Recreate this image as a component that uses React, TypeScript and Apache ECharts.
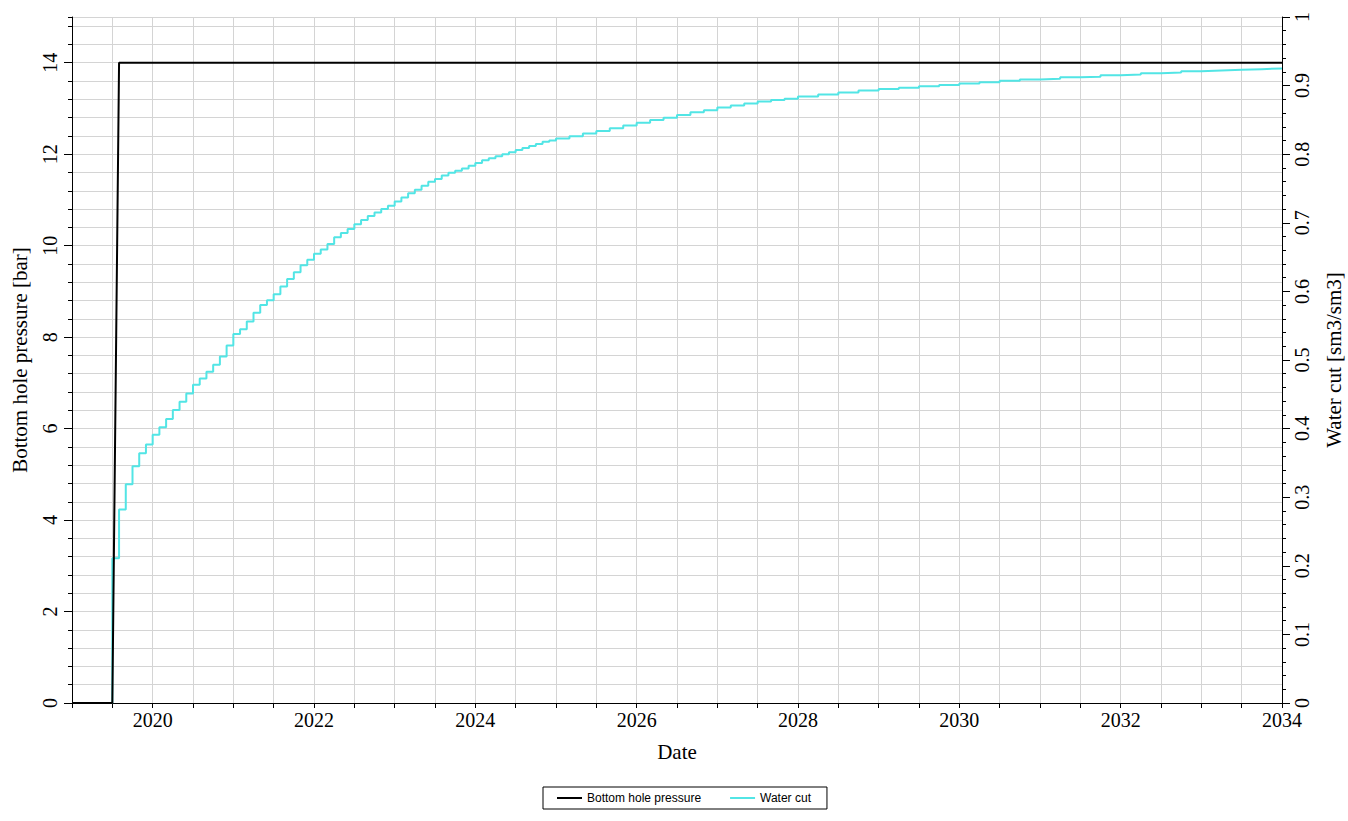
import React, { useEffect, useRef } from 'react';
import * as echarts from 'echarts';

// Bottom hole pressure [bar]
const bhpDates = ['2019-01', '2019-07', '2019-08', '2034-01'];
const bhpValues = [0, 0, 14, 14];

// Water cut [sm3/sm3] — monthly steps from 2019-07 to 2024-12
const wcMonthlyStart = '2019-07';
const wcMonthlyValues = [
  0.211, 0.282, 0.319, 0.345, 0.364, 0.377,
  0.391, 0.402, 0.414, 0.427, 0.439, 0.451, 0.464, 0.473, 0.483, 0.493, 0.505, 0.521,
  0.538, 0.545, 0.556, 0.569, 0.580, 0.587, 0.596, 0.607, 0.618, 0.628, 0.638, 0.646,
  0.655, 0.661, 0.669, 0.679, 0.685, 0.691, 0.698, 0.704, 0.710, 0.715, 0.720, 0.725,
  0.731, 0.737, 0.743, 0.748, 0.754, 0.760, 0.764, 0.769, 0.773, 0.776, 0.779, 0.783,
  0.787, 0.791, 0.794, 0.797, 0.800, 0.803, 0.806, 0.809, 0.812, 0.815, 0.818, 0.820,
];
// Water cut — later readings
const wcLaterDates = [
  '2025-01', '2025-03', '2025-05', '2025-07', '2025-09', '2025-11',
  '2026-01', '2026-03', '2026-05', '2026-07', '2026-09', '2026-11',
  '2027-01', '2027-03', '2027-05', '2027-07', '2027-09', '2027-11',
  '2028-01', '2028-04', '2028-07', '2028-10',
  '2029-01', '2029-04', '2029-07', '2029-10',
  '2030-01', '2030-04', '2030-07', '2030-10',
  '2031-01', '2031-04', '2031-07', '2031-10',
  '2032-01', '2032-04', '2032-07', '2032-10',
  '2033-01', '2033-04', '2033-07', '2033-10', '2034-01',
];
const wcLaterValues = [
  0.823, 0.826, 0.830, 0.834, 0.838, 0.842,
  0.846, 0.850, 0.853, 0.857, 0.861, 0.864,
  0.868, 0.871, 0.874, 0.877, 0.879, 0.881,
  0.884, 0.887, 0.890, 0.893,
  0.895, 0.897, 0.899, 0.901,
  0.903, 0.905, 0.907, 0.909,
  0.910, 0.912, 0.913, 0.915,
  0.916, 0.918, 0.919, 0.921,
  0.922, 0.923, 0.924, 0.925, 0.926,
];
const wcStartDate = '2019-01';
const wcStartValue = 0;

const xMin = 2019;
const xMax = 2034;
const leftMajorTicks = [0, 2, 4, 6, 8, 10, 12, 14];
const rightMajorTicks = [0, 0.1, 0.2, 0.3, 0.4, 0.5, 0.6, 0.7, 0.8, 0.9, 1];

function toYear(s: string): number {
  const [y, m] = s.split('-').map(Number);
  return y + (m - 1) / 12;
}

function monthlyDates(start: string, n: number): string[] {
  const [y0, m0] = start.split('-').map(Number);
  const out: string[] = [];
  for (let i = 0; i < n; i++) {
    const t = (m0 - 1) + i;
    const y = y0 + Math.floor(t / 12);
    const m = (t % 12) + 1;
    out.push(`${y}-${String(m).padStart(2, '0')}`);
  }
  return out;
}

const SERIF = '"Liberation Serif", "Times New Roman", serif';
const SANS = '"Liberation Sans", Arial, sans-serif';
const GRID_COLOR = '#d4d4d4';
const CYAN = '#52e5e5';

export default function App() {
  const ref = useRef<HTMLDivElement>(null);

  useEffect(() => {
    if (!ref.current) return;
    const chart = echarts.init(ref.current, undefined, { renderer: 'svg' });

    const bhpData = bhpDates.map((d, i) => [toYear(d), bhpValues[i]]);
    const mDates = monthlyDates(wcMonthlyStart, wcMonthlyValues.length);
    const wcData: number[][] = [[toYear(wcStartDate), wcStartValue]];
    mDates.forEach((d, i) => wcData.push([toYear(d), wcMonthlyValues[i]]));
    wcLaterDates.forEach((d, i) => wcData.push([toYear(d), wcLaterValues[i]]));

    const axisText = { fontFamily: SERIF, fontSize: 20, color: '#000' };
    const nameText = { fontFamily: SERIF, fontSize: 21, color: '#000' };

    const option: any = {
      animation: false,
      backgroundColor: '#ffffff',
      grid: { left: 72, right: 66, top: 17, bottom: 118, containLabel: false, outerBoundsMode: 'none' },
      legend: {
        data: ['Bottom hole pressure', 'Water cut'],
        left: 543,
        top: 787,
        orient: 'horizontal',
        borderColor: '#000',
        borderWidth: 1,
        padding: [5, 16, 5, 14],
        itemGap: 29,
        itemWidth: 25,
        itemHeight: 2,
        icon: 'rect',
        textStyle: { fontFamily: SANS, fontSize: 12, color: '#000' },
      },
      xAxis: {
        type: 'value',
        min: xMin,
        max: xMax,
        interval: 0.5,
        name: 'Date',
        nameLocation: 'middle',
        nameGap: 38,
        nameTextStyle: nameText,
        axisLine: { show: true, onZero: false, lineStyle: { color: '#000', width: 1 } },
        axisTick: { show: true, length: 5, lineStyle: { color: '#000' } },
        axisLabel: {
          ...axisText,
          margin: 7,
          showMinLabel: true,
          showMaxLabel: true,
          formatter: (v: number) => (Math.abs(v - Math.round(v)) < 1e-6 && Math.round(v) % 2 === 0 ? String(Math.round(v)) : ''),
        },
        splitLine: { show: true, lineStyle: { color: GRID_COLOR, width: 1 } },
      },
      yAxis: [
        {
          type: 'value',
          position: 'left',
          min: 0,
          max: 15,
          interval: 0.4,
          name: 'Bottom hole pressure [bar]',
          nameLocation: 'middle',
          nameGap: 42,
          nameRotate: 90,
          nameTextStyle: nameText,
          axisLine: { show: true, onZero: false, lineStyle: { color: '#000', width: 1 } },
          axisTick: { show: true, length: 4, lineStyle: { color: '#000' } },
          axisLabel: {
            ...axisText,
            rotate: 90,
            margin: 12,
            formatter: (v: number) => {
              const r = Math.round(v);
              return Math.abs(v - r) < 1e-6 && r % 2 === 0 && r <= 14 ? String(r) : '';
            },
          },
          splitLine: { show: true, lineStyle: { color: GRID_COLOR, width: 1 } },
        },
        {
          type: 'value',
          position: 'right',
          min: 0,
          max: 1,
          interval: 0.02,
          name: 'Water cut [sm3/sm3]',
          nameLocation: 'middle',
          nameGap: 41,
          nameRotate: 90,
          nameTextStyle: nameText,
          axisLine: { show: true, onZero: false, lineStyle: { color: '#000', width: 1 } },
          axisTick: { show: true, length: 4, lineStyle: { color: '#000' } },
          axisLabel: {
            ...axisText,
            rotate: 90,
            margin: 10,
            formatter: (v: number) => {
              const r = Math.round(v * 10);
              if (Math.abs(v * 10 - r) > 1e-6) return '';
              if (r === 0) return '0';
              if (r === 10) return '1';
              return (r / 10).toFixed(1);
            },
          },
          splitLine: { show: false },
        },
        {
          type: 'value',
          position: 'left',
          min: 0,
          max: 15,
          axisLine: { show: false },
          axisTick: { show: true, length: 8, customValues: leftMajorTicks, lineStyle: { color: '#000' } },
          axisLabel: { show: false },
          splitLine: { show: false },
        },
        {
          type: 'value',
          position: 'right',
          min: 0,
          max: 1,
          axisLine: { show: false },
          axisTick: { show: true, length: 8, customValues: rightMajorTicks, lineStyle: { color: '#000' } },
          axisLabel: { show: false },
          splitLine: { show: false },
        },
      ],
      series: [
        {
          name: 'Water cut',
          type: 'line',
          yAxisIndex: 1,
          step: 'end',
          symbol: 'none',
          showSymbol: false,
          data: wcData,
          lineStyle: { color: CYAN, width: 2 },
          itemStyle: { color: CYAN },
        },
        {
          name: 'Bottom hole pressure',
          type: 'line',
          yAxisIndex: 0,
          symbol: 'none',
          showSymbol: false,
          data: bhpData,
          lineStyle: { color: '#000', width: 2 },
          itemStyle: { color: '#000' },
        },
      ],
    };

    chart.setOption(option);
    return () => {
      chart.dispose();
    };
  }, []);

  return (
    <div
      ref={ref}
      style={{ position: 'fixed', left: 0, top: 0, width: 1348, height: 821, background: '#fff' }}
    />
  );
}
